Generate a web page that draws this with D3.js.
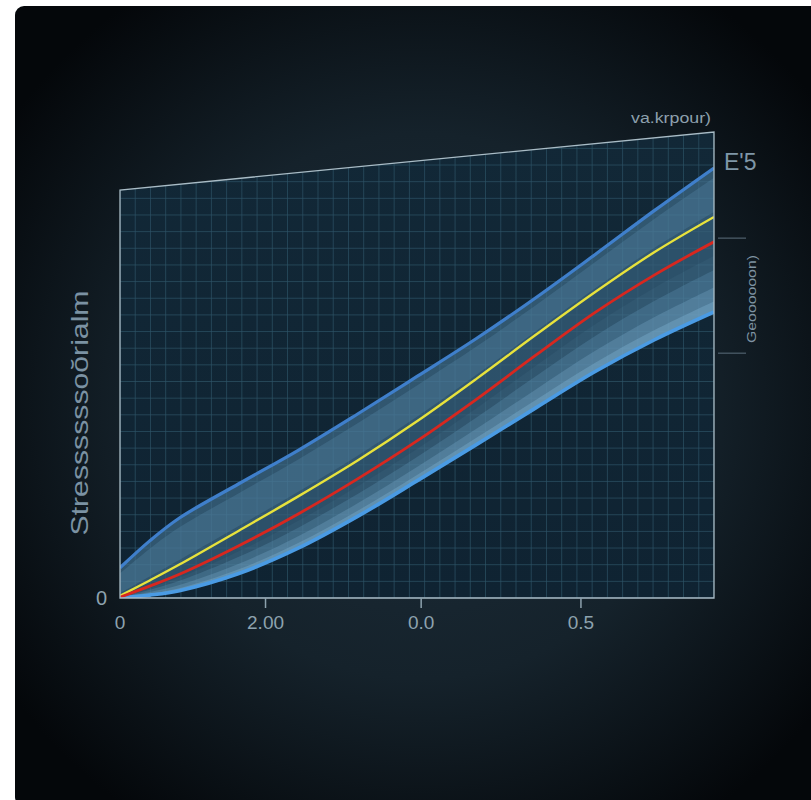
<!DOCTYPE html>
<html><head><meta charset="utf-8">
<script src="https://cdn.jsdelivr.net/npm/d3@7"></script>
<style>html,body{margin:0;padding:0;background:#fff;}svg{display:block;}</style>
</head><body>
<svg id="chart" width="811" height="800"></svg>
<script>
// ---- data ----
const xValues      = [0, 0.05, 0.1, 0.2, 0.3, 0.4, 0.5, 0.6, 0.7, 0.8, 0.9, 1.0];
const upperBand    = [0.074, 0.140, 0.196, 0.280, 0.362, 0.451, 0.543, 0.636, 0.736, 0.842, 0.950, 1.054];
const yellowSeries = [0.005, 0.043, 0.082, 0.165, 0.249, 0.337, 0.433, 0.537, 0.645, 0.750, 0.848, 0.934];
const redSeries    = [0.002, 0.029, 0.058, 0.128, 0.206, 0.292, 0.385, 0.487, 0.595, 0.700, 0.792, 0.873];
const lowerBand    = [0.000, 0.007, 0.018, 0.060, 0.122, 0.200, 0.287, 0.376, 0.466, 0.555, 0.633, 0.701];
const xTickValues = [0, 0.245, 0.507, 0.776];
const xTickLabels = ["0", "2.00", "0.0", "0.5"];
const yTickValues = [0];
const yTickLabels = ["0"];
const rightTickValues = [0.882, 0.600];
const topRightValue = 1.142; // top border height at right edge
const yTitle = "Stressssssoŏrialm";
const topLabel = "va.krpour)";
const cornerLabel = "E'5";
const rightLabel = "Geoooooon)";

// ---- layout ----
const svg = d3.select("#chart");
const W = 811, H = 800;
const x = d3.scaleLinear().domain([0, 1]).range([120, 714]);
const y = d3.scaleLinear().domain([0, 1]).range([598, 190]);
const font = "'Liberation Sans', Arial, sans-serif";

const defs = svg.append("defs");
const bg = defs.append("radialGradient").attr("id", "bg")
  .attr("cx", 0.5).attr("cy", 0.5).attr("r", 0.62);
bg.append("stop").attr("offset", "0%").attr("stop-color", "#1d2e3b");
bg.append("stop").attr("offset", "55%").attr("stop-color", "#15222b");
bg.append("stop").attr("offset", "100%").attr("stop-color", "#04070a");

const plotBg = defs.append("linearGradient").attr("id", "plotbg")
  .attr("x1", 0).attr("y1", 0).attr("x2", 0).attr("y2", 1);
plotBg.append("stop").attr("offset", "0%").attr("stop-color", "#122837");
plotBg.append("stop").attr("offset", "100%").attr("stop-color", "#0f2332");

svg.append("rect").attr("x", 15).attr("y", 6).attr("width", W).attr("height", H)
  .attr("rx", 9).attr("fill", "url(#bg)");

// clip polygon of plot area (slanted top)
const clipPts = [[0, 0], [0, 1], [1, topRightValue], [1, 0]].map(d => [x(d[0]), y(d[1])]);
defs.append("clipPath").attr("id", "plotclip").append("polygon")
  .attr("points", clipPts.map(p => p.join(",")).join(" "));

const plot = svg.append("g").attr("clip-path", "url(#plotclip)");
plot.append("rect").attr("x", x(0)).attr("y", y(topRightValue)).attr("width", x(1) - x(0))
  .attr("height", y(0) - y(topRightValue)).attr("fill", "url(#plotbg)");

// grid
const vGrid = d3.range(0, 1.0001, 1 / 39);
const hGrid = d3.range(0, 1.2, 1 / 24.5);
plot.selectAll("line.vg").data(vGrid).join("line")
  .attr("x1", d => x(d)).attr("x2", d => x(d)).attr("y1", y(0)).attr("y2", y(topRightValue))
  .attr("stroke", "#2e5467").attr("stroke-width", 1).attr("opacity", 0.7);
plot.selectAll("line.hg").data(hGrid).join("line")
  .attr("x1", x(0)).attr("x2", x(1)).attr("y1", d => y(d)).attr("y2", d => y(d))
  .attr("stroke", "#2e5467").attr("stroke-width", 1).attr("opacity", 0.7);

// data rows
const rows = xValues.map((v, i) => ({
  x: v, up: upperBand[i], yel: yellowSeries[i], red: redSeries[i], lo: lowerBand[i]
}));
const mix = (a, b, t) => a + (b - a) * t;
const curve = d3.curveCatmullRom.alpha(0.5);

function bandArea(fLo, fHi) {
  return d3.area().curve(curve).x(d => x(d.x)).y0(d => y(fLo(d))).y1(d => y(fHi(d)));
}
// base band
plot.append("path").datum(rows).attr("d", bandArea(d => d.lo, d => d.up))
  .attr("fill", "#416e8c").attr("opacity", 0.68);
// lighter layer under upper line
plot.append("path").datum(rows).attr("d", bandArea(d => mix(d.yel, d.up, 0.1), d => mix(d.yel, d.up, 0.8)))
  .attr("fill", "#5a8cab").attr("opacity", 0.3);
// slightly darker strip around yellow/red
plot.append("path").datum(rows).attr("d", bandArea(d => mix(d.lo, d.red, 0.8), d => d.yel))
  .attr("fill", "#1e4058").attr("opacity", 0.25);
// lighter layers towards lower line
plot.append("path").datum(rows).attr("d", bandArea(d => d.lo, d => mix(d.lo, d.red, 0.6)))
  .attr("fill", "#6195b7").attr("opacity", 0.3);
plot.append("path").datum(rows).attr("d", bandArea(d => d.lo, d => mix(d.lo, d.red, 0.35)))
  .attr("fill", "#7aaccc").attr("opacity", 0.3);
plot.append("path").datum(rows).attr("d", bandArea(d => d.lo, d => mix(d.lo, d.red, 0.15)))
  .attr("fill", "#8cc0e0").attr("opacity", 0.3);

const line = key => d3.line().curve(curve).x(d => x(d.x)).y(d => y(d[key]));
plot.append("path").datum(rows).attr("d", line("up")).attr("fill", "none")
  .attr("stroke", "#3f7fcb").attr("stroke-width", 3.2);
plot.append("path").datum(rows).attr("d", line("lo")).attr("fill", "none")
  .attr("stroke", "#4a9be4").attr("stroke-width", 3.6);
plot.append("path").datum(rows).attr("d", line("yel")).attr("fill", "none")
  .attr("stroke", "#e7e23c").attr("stroke-width", 2.4);
plot.append("path").datum(rows).attr("d", line("red")).attr("fill", "none")
  .attr("stroke", "#d8271f").attr("stroke-width", 2.8);

// frame
svg.append("polygon").attr("points", clipPts.map(p => p.join(",")).join(" "))
  .attr("fill", "none").attr("stroke", "#a9bcc6").attr("stroke-width", 1.3);

// x axis ticks
const axisColor = "#8da2ae";
svg.selectAll("line.xt").data(xTickValues.slice(1)).join("line")
  .attr("x1", d => x(d)).attr("x2", d => x(d)).attr("y1", y(0)).attr("y2", y(0) + 10)
  .attr("stroke", axisColor).attr("stroke-width", 1.5);
svg.selectAll("text.xl").data(xTickValues).join("text")
  .attr("x", d => x(d)).attr("y", y(0) + 31).attr("text-anchor", "middle")
  .attr("font-family", font).attr("font-size", 19)
  .attr("fill", axisColor).text((d, i) => xTickLabels[i]);
svg.selectAll("text.yl").data(yTickValues).join("text")
  .attr("x", x(0) - 13).attr("y", d => y(d) + 7).attr("text-anchor", "end")
  .attr("font-family", font).attr("font-size", 20)
  .attr("fill", axisColor).text((d, i) => yTickLabels[i]);

// right-side ticks
svg.selectAll("line.rt").data(rightTickValues).join("line")
  .attr("x1", x(1) + 4).attr("x2", x(1) + 32).attr("y1", d => y(d)).attr("y2", d => y(d))
  .attr("stroke", "#4b5c68").attr("stroke-width", 1.3);

// titles
svg.append("text").attr("transform", "translate(88,413) rotate(-90)")
  .attr("text-anchor", "middle").attr("font-family", font)
  .attr("font-size", 24).attr("fill", "#7b92a3")
  .attr("textLength", 245).attr("lengthAdjust", "spacingAndGlyphs").text(yTitle);
svg.append("text").attr("x", 711).attr("y", 123).attr("text-anchor", "end")
  .attr("font-family", font).attr("font-size", 14)
  .attr("fill", "#8da0ad").attr("textLength", 80).attr("lengthAdjust", "spacingAndGlyphs").text(topLabel);
svg.append("text").attr("x", 724).attr("y", 170)
  .attr("font-family", font).attr("font-size", 23)
  .attr("fill", "#7f96a7").text(cornerLabel);
svg.append("text").attr("transform", "translate(756,299) rotate(-90)")
  .attr("text-anchor", "middle").attr("font-family", font)
  .attr("font-size", 12).attr("fill", "#7f93a2")
  .attr("textLength", 88).attr("lengthAdjust", "spacingAndGlyphs").text(rightLabel);
</script>
</body></html>
